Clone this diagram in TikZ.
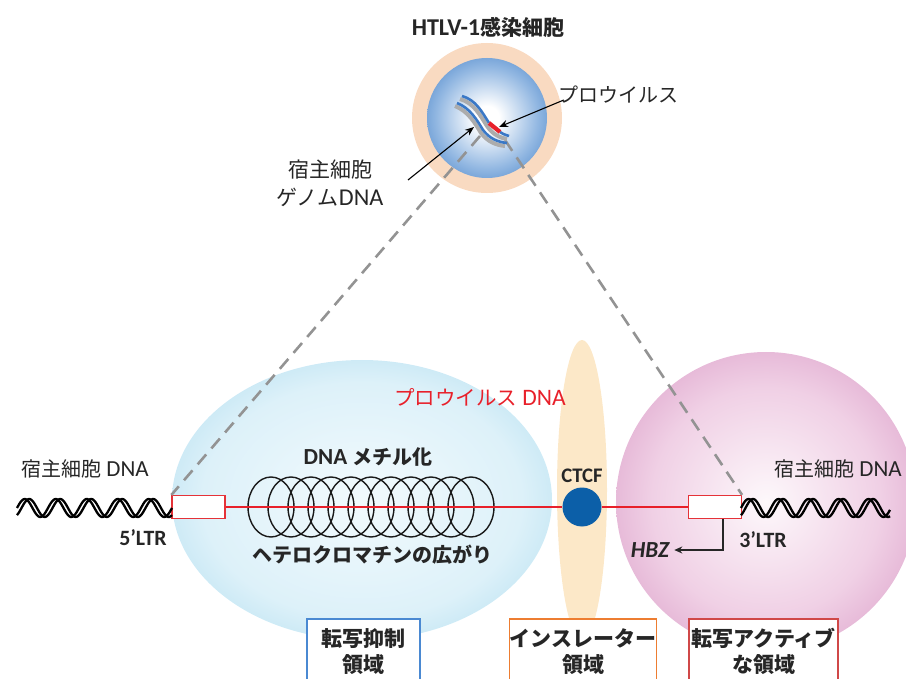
\documentclass[tikz,border=0pt]{standalone}
\usepackage{fontspec}
\setmainfont{Carlito}[Scale=1.15]
\newfontfamily\jp{Noto Sans CJK JP}
\usetikzlibrary{arrows.meta}

\definecolor{ink}{HTML}{262626}
\definecolor{bluein}{HTML}{F2FAFD}
\definecolor{bluemid}{HTML}{DDF1F9}
\definecolor{blueout}{HTML}{A9DAEE}
\definecolor{insul}{HTML}{FCE8C8}
\definecolor{pinkin}{HTML}{FDF8FB}
\definecolor{pinkmid}{HTML}{F0D0E5}
\definecolor{pinkout}{HTML}{D897C4}
\definecolor{peach}{HTML}{F9DAC1}
\definecolor{cellmid}{HTML}{93B8E2}
\definecolor{cellblue}{HTML}{3F7DC6}
\definecolor{strandblue}{HTML}{3A78C6}
\definecolor{ltrred}{HTML}{E53238}
\definecolor{dnared}{HTML}{E8202A}
\definecolor{ctcfblue}{HTML}{0C5FA8}
\definecolor{boxblue}{HTML}{4A89D2}
\definecolor{boxorange}{HTML}{ED7D31}
\definecolor{boxred}{HTML}{D04848}
\definecolor{guidegray}{HTML}{939393}

% radial shadings: the path's edge (along the axes) lies at about 35bp
\pgfdeclareradialshading{bluedomain}{\pgfpoint{0bp}{0bp}}{%
  color(0bp)=(bluein); color(21bp)=(bluemid); color(35bp)=(blueout); color(50bp)=(blueout)}
\pgfdeclareradialshading{pinkdomain}{\pgfpoint{0bp}{0bp}}{%
  color(0bp)=(pinkin); color(19bp)=(pinkmid); color(35bp)=(pinkout); color(50bp)=(pinkout)}
\pgfdeclareradialshading{nucleus}{\pgfpoint{0bp}{0bp}}{%
  color(0bp)=(white); color(5bp)=(white); color(21bp)=(cellmid); color(35bp)=(cellblue); color(50bp)=(cellblue)}

\begin{document}
\begin{tikzpicture}[x=1pt,y=-1pt,
  txt/.style={inner sep=0pt, text=ink},
  ltrbox/.style={draw=ltrred, fill=white, line width=1.2pt, minimum width=53pt, minimum height=23pt, inner sep=0pt},
  guide/.style={draw=guidegray, line width=2.6pt, dash pattern=on 13pt off 8pt},
  strand/.style={draw=strandblue, line width=2.6pt},
  strandshade/.style={draw=gray!65, line width=4pt},
  ptr/.style={draw=black, line width=1.1pt, -{Stealth[length=9pt,width=7pt]}},
  helixstrand/.style={draw=black, line width=2.3pt},
  coilring/.style={draw=black!90, line width=1.4pt},
  regionbox/.style={fill=white, line width=1.5pt, anchor=north, inner sep=0pt, minimum height=66pt, align=center, text=ink,
    font=\jp\bfseries\fontsize{21}{26}\selectfont},
]
\useasboundingbox (0,0) rectangle (906,679);
\clip (0,0) rectangle (906,679);

% chromatin domains
\shade[shading=bluedomain] (362,500) ellipse [x radius=190pt, y radius=140pt];
\fill[insul] (582,490) ellipse [x radius=25pt, y radius=150pt];
\shade[shading=pinkdomain] (766,502) circle [radius=150pt];

% infected cell
\fill[peach] (487,118) circle [radius=75pt];
\shade[shading=nucleus] (487,118) circle [radius=60pt];

% LTR boxes
\node[ltrbox] (ltr5) at (198.5,507) {};
\node[ltrbox] (ltr3) at (715,507) {};

% zoom guides from the provirus to the LTRs
\coordinate (cellL) at (480,136);
\coordinate (cellR) at (505,140);
\draw[guide] (cellL) -- (ltr5.north west);
\draw[guide] (cellR) -- (ltr3.north east);

% host genome strands with integrated provirus
\draw[strandshade] (460,99) .. controls (474,103) and (480,115) .. (487,126) .. controls (493,135) and (501,138) .. (507,139);
\draw[strandshade] (455,106) .. controls (468,111) and (475,123) .. (481,133) .. controls (488,142) and (496,145) .. (505,146);
\draw[strand] (462,96) .. controls (476,100) and (482,112) .. (489,123);
\draw[strand] (500,132) .. controls (503,134) .. (509,136);
\draw[draw=dnared, line width=4.2pt] (489,123) -- (500,132);
\draw[strand] (457,103) .. controls (470,108) and (477,120) .. (483,130) .. controls (490,139) and (498,142) .. (507,143);
\coordinate (provtip) at (499,127);
\coordinate (gtip) at (474,127);
\coordinate (gtail) at (408,180);

% cell labels
\node[txt, font=\bfseries\fontsize{21}{25}\selectfont] (title) at (488,27) {HTLV-1{\jp 感染細胞}};
\node[txt, font=\jp\fontsize{20}{24}\selectfont] (provlbl) at (618,95) {プロウイルス};
\node[txt, font=\fontsize{21}{28}\selectfont, align=center] (genlbl) at (330,183) {{\jp 宿主細胞}\\{\jp ゲノム}DNA};
\draw[ptr] ([shift={(6,5)}]provlbl.west) -- (provtip);
\draw[ptr] (gtail) -- (gtip);

% heterochromatin coil
\foreach \k in {0,...,10}
  \draw[coilring] ({271+20*\k},507) ellipse [x radius=23pt, y radius=30pt];

% CTCF insulator on the provirus line
\node[circle, fill=ctcfblue, minimum size=39pt, inner sep=0pt] (ctcf) at (582,507) {};
\draw[draw=dnared, line width=2.8pt] (ltr5.east) -- (ctcf.west);
\draw[draw=dnared, line width=2.8pt] (ctcf.east) -- (ltr3.west);

% host DNA double helices
\draw[helixstrand] plot[domain=17:172, samples=120, smooth] (\x, {508 - 9*sin((\x-172)/31*360)});
\draw[helixstrand] plot[domain=17:172, samples=120, smooth] (\x, {508 - 9*sin((\x-176.5)/31*360)});
\draw[helixstrand] plot[domain=741:890, samples=120, smooth] (\x, {508 - 9*sin((\x-741)/30*360)});
\draw[helixstrand] plot[domain=741:890, samples=120, smooth] (\x, {508 - 9*sin((\x-745.5)/30*360)});

% HBZ transcript from the 3'LTR
\node[txt, font=\bfseries\itshape\fontsize{20}{24}\selectfont] (hbz) at (650,550) {HBZ};
\draw[draw=ink, line width=1.6pt, -{Stealth[length=8pt,width=7pt]}] ([xshift=8pt]ltr3.south) |- ([xshift=5pt]hbz.east);

% labels along the locus
\node[txt, font=\fontsize{20}{24}\selectfont] (hostL) at (85,469) {{\jp 宿主細胞} DNA};
\node[txt, font=\fontsize{20}{24}\selectfont] (hostR) at (838,469) {{\jp 宿主細胞} DNA};
\node[txt, font=\bfseries\fontsize{19}{23}\selectfont] (lbl5) at (143,538) {5’LTR};
\node[txt, font=\bfseries\fontsize{19}{23}\selectfont] (lbl3) at (763,540) {3’LTR};
\node[txt, font=\bfseries\fontsize{18}{22}\selectfont] (ctcflbl) at (582,476) {CTCF};
\node[txt, font=\bfseries\fontsize{20}{24}\selectfont] (methyl) at (368,457) {DNA {\jp メチル化}};
\node[txt, font=\jp\bfseries\fontsize{20}{24}\selectfont] (hetero) at (372,555) {ヘテロクロマチンの広がり};
\node[inner sep=0pt, text=dnared, font=\fontsize{20.5}{24}\selectfont] (provdna) at (480,397) {{\jp プロウイルス} DNA};

% region captions
\node[regionbox, draw=boxblue, minimum width=113pt] (rb1) at (363.5,618) {転写抑制\\領域};
\node[regionbox, draw=boxorange, minimum width=145pt] (rb2) at (583,618) {インスレーター\\領域};
\node[regionbox, draw=boxred, minimum width=149pt] (rb3) at (763.5,618) {転写アクティブ\\な領域};
\end{tikzpicture}
\end{document}
